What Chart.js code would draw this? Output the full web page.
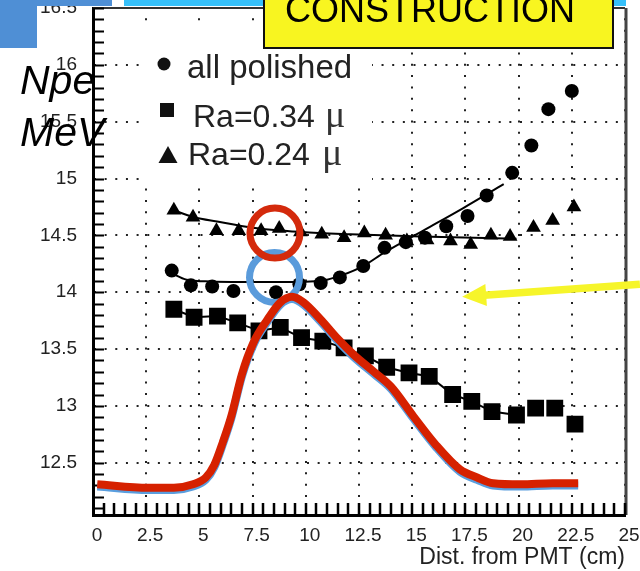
<!DOCTYPE html>
<html>
<head>
<meta charset="utf-8">
<script src="https://cdn.jsdelivr.net/npm/chart.js@4.4.1/dist/chart.umd.min.js"></script>
<style>
  html, body { margin: 0; padding: 0; background: #fff; }
  #wrap { width: 640px; height: 571px; position: relative; }
</style>
</head>
<body>
<div id="wrap"><canvas id="c" width="640" height="571"></canvas></div>
<script>
// Axis tick labels
const X_TICKS = [0, 2.5, 5, 7.5, 10, 12.5, 15, 17.5, 20, 22.5, 25];
const Y_TICKS = [12.5, 13, 13.5, 14, 14.5, 15, 15.5, 16, 16.5];

// Npe/MeV versus distance from the PMT, all polished
const polishedX = [3.7, 4.6, 5.6, 6.6, 8.6, 9.7, 10.7, 11.6, 12.7, 13.7, 14.7, 15.6, 16.6, 17.6, 18.5, 19.7, 20.6, 21.4, 22.5];
const polishedY = [14.19, 14.06, 14.05, 14.01, 14.00, 14.07, 14.08, 14.13, 14.23, 14.39, 14.44, 14.48, 14.58, 14.67, 14.85, 15.05, 15.29, 15.61, 15.77];

// Ra = 0.34 micron
const ra034X = [3.8, 4.75, 5.85, 6.8, 7.8, 8.8, 9.8, 10.8, 11.8, 12.8, 13.8, 14.85, 15.8, 16.9, 17.8, 18.75, 19.9, 20.8, 21.7, 22.65];
const ra034Y = [13.85, 13.78, 13.79, 13.73, 13.66, 13.69, 13.60, 13.57, 13.51, 13.44, 13.34, 13.29, 13.26, 13.10, 13.04, 12.95, 12.92, 12.98, 12.98, 12.84];

// Ra = 0.24 micron
const ra024X = [3.8, 4.7, 5.8, 6.85, 7.9, 8.75, 9.75, 10.75, 11.8, 12.75, 13.75, 14.75, 15.7, 16.8, 17.75, 18.7, 19.6, 20.7, 21.6, 22.6];
const ra024Y = [14.72, 14.66, 14.54, 14.54, 14.54, 14.56, 14.53, 14.51, 14.48, 14.52, 14.50, 14.45, 14.46, 14.45, 14.42, 14.50, 14.49, 14.57, 14.63, 14.75];

// Fit curves
const polishedFitX = [3.65, 4.4, 5.5, 8.0, 10.2, 11.0, 11.7, 12.7, 13.7, 15.6, 17.4, 19.3];
const polishedFitY = [14.17, 14.11, 14.095, 14.09, 14.095, 14.11, 14.15, 14.23, 14.35, 14.55, 14.74, 14.95];
const ra024FitX = [3.65, 4.75, 5.9, 7.4, 9.8, 12.1, 15.4, 19.9];
const ra024FitY = [14.73, 14.66, 14.62, 14.57, 14.53, 14.51, 14.49, 14.47];

// Light profile along the tube (red and blue traces)
const profileRedX = [0.2, 2.6, 3.8, 4.7, 5.3, 5.7, 6.1, 6.5, 7.0, 7.55, 8.2, 8.8, 9.35, 9.9, 10.7, 11.5, 12.25, 13.2, 14.0, 15.05, 16.1, 17.25, 18.05, 18.8, 20.1, 21.6, 22.8];
const profileRedY = [12.31, 12.28, 12.28, 12.31, 12.37, 12.48, 12.68, 12.91, 13.28, 13.56, 13.76, 13.91, 13.96, 13.91, 13.76, 13.59, 13.45, 13.30, 13.17, 12.91, 12.66, 12.44, 12.37, 12.32, 12.31, 12.32, 12.32];
const profileBlueX = [0.2, 2.6, 3.8, 4.7, 5.3, 5.7, 6.1, 6.5, 7.0, 7.55, 8.2, 8.8, 9.35, 9.9, 10.7, 11.5, 12.25, 13.2, 14.0, 15.05, 16.1, 17.25, 18.05, 18.8, 20.1, 21.6, 22.8];
const profileBlueY = [12.29, 12.26, 12.26, 12.29, 12.35, 12.46, 12.66, 12.89, 13.26, 13.54, 13.74, 13.89, 13.94, 13.89, 13.74, 13.57, 13.43, 13.28, 13.15, 12.89, 12.64, 12.42, 12.35, 12.30, 12.29, 12.30, 12.30];

// Highlight rings and pointer arrow (data coordinates)
const redRing = [8.55, 14.52];
const blueRing = [8.53, 14.13];
const arrowFrom = [25.7, 14.07];
const arrowTo = [17.35, 13.96];

const pts = (xs, ys) => xs.map((x, i) => ({ x, y: ys[i] }));

const overlay = {
  id: 'overlay',
  beforeDatasetsDraw(chart) {
    const { ctx, chartArea: a, scales: { x, y } } = chart;
    ctx.save();
    // plot frame: top and right edges
    ctx.strokeStyle = '#333';
    ctx.lineWidth = 2;
    ctx.beginPath(); ctx.moveTo(a.left, a.top); ctx.lineTo(a.right, a.top); ctx.stroke();
    ctx.lineWidth = 3;
    ctx.strokeStyle = '#444';
    ctx.beginPath(); ctx.moveTo(a.right + 1, a.top); ctx.lineTo(a.right + 1, a.bottom); ctx.stroke();
    // inner tick marks
    ctx.strokeStyle = '#000';
    ctx.lineWidth = 2;
    ctx.beginPath();
    for (let i = Math.ceil(y.min * 10); i <= Math.floor(y.max * 10 + 1e-6); i++) {
      const py = Math.round(y.getPixelForValue(i / 10)) + 0.5;
      ctx.moveTo(a.left, py); ctx.lineTo(a.left + 11, py);
    }
    ctx.stroke();
    ctx.lineWidth = 2.5;
    ctx.beginPath();
    for (let i = 1; i <= 50; i++) {
      const px = Math.round(x.getPixelForValue(i / 2));
      ctx.moveTo(px, a.bottom); ctx.lineTo(px, a.bottom - 12);
    }
    ctx.stroke();
    // legend panel
    ctx.fillStyle = '#fff';
    ctx.fillRect(140, 28, 232, 152);
    ctx.fillStyle = '#111';
    ctx.beginPath(); ctx.arc(164, 64, 6.5, 0, Math.PI * 2); ctx.fill();
    ctx.fillRect(160, 103, 14, 14);
    ctx.beginPath(); ctx.moveTo(168, 146); ctx.lineTo(177.5, 163); ctx.lineTo(158.5, 163); ctx.closePath(); ctx.fill();
    ctx.fillStyle = '#222';
    ctx.font = '33px "Liberation Sans", Arial, sans-serif';
    ctx.textBaseline = 'alphabetic';
    ctx.textAlign = 'left';
    ctx.fillText('all polished', 187, 78);
    ctx.font = '32px "Liberation Sans", Arial, sans-serif';
    ctx.fillText('Ra=0.34', 193, 127);
    ctx.fillText('Ra=0.24', 188, 165);
    ctx.font = '38px "Liberation Serif", serif';
    ctx.fillStyle = '#333';
    ctx.fillText('\u03bc', 325, 127);
    ctx.fillText('\u03bc', 322, 165);
    ctx.restore();
  },
  afterDraw(chart) {
    const { ctx, scales: { x, y } } = chart;
    ctx.save();
    // pointer arrow
    const x0 = x.getPixelForValue(arrowFrom[0]), y0 = y.getPixelForValue(arrowFrom[1]);
    const x1 = x.getPixelForValue(arrowTo[0]), y1 = y.getPixelForValue(arrowTo[1]);
    const ang = Math.atan2(y1 - y0, x1 - x0);
    const headLen = 24, headHalf = 11;
    const bx = x1 - Math.cos(ang) * headLen, by = y1 - Math.sin(ang) * headLen;
    ctx.strokeStyle = '#f6f52a';
    ctx.fillStyle = '#f6f52a';
    ctx.lineWidth = 7.5;
    ctx.beginPath(); ctx.moveTo(x0, y0); ctx.lineTo(bx + Math.cos(ang) * 2, by + Math.sin(ang) * 2); ctx.stroke();
    ctx.beginPath();
    ctx.moveTo(x1, y1);
    ctx.lineTo(bx - Math.sin(ang) * headHalf, by + Math.cos(ang) * headHalf);
    ctx.lineTo(bx + Math.sin(ang) * headHalf, by - Math.cos(ang) * headHalf);
    ctx.closePath(); ctx.fill();

    // axis caption
    ctx.fillStyle = '#000';
    ctx.font = 'italic 41px "Liberation Sans", Arial, sans-serif';
    ctx.textAlign = 'left';
    ctx.textBaseline = 'alphabetic';
    ctx.fillText('Npe', 20, 94);
    ctx.fillText('MeV', 20, 146);

    // header strips
    ctx.fillStyle = '#36c0fa';
    ctx.fillRect(124, 0, 502, 6);
    ctx.fillStyle = '#4f8fd5';
    ctx.fillRect(0, 0, 112, 6);
    ctx.fillRect(0, 0, 37, 48);

    // construction banner
    ctx.fillStyle = '#f8f520';
    ctx.fillRect(264, -4, 349, 52);
    ctx.strokeStyle = '#111';
    ctx.lineWidth = 2;
    ctx.strokeRect(264, -4, 349, 52);
    ctx.fillStyle = '#000';
    ctx.font = '36px "Liberation Sans", Arial, sans-serif';
    ctx.fillText('CONSTRUCTION', 285, 22);
    ctx.restore();
  }
};

const lineDs = (data, color, width, order) => ({
  type: 'scatter', data, showLine: true, borderColor: color, borderWidth: width,
  pointRadius: 0, cubicInterpolationMode: 'monotone', order, fill: false
});

new Chart(document.getElementById('c'), {
  type: 'scatter',
  data: {
    datasets: [
      lineDs(pts(profileRedX, profileRedY), '#d62100', 8, 0),
      lineDs(pts(profileBlueX, profileBlueY), '#5a9ede', 8, 1),
      { data: [{ x: redRing[0], y: redRing[1] }], pointStyle: 'circle', pointRadius: 25,
        borderColor: '#d42a0c', borderWidth: 7, backgroundColor: 'rgba(0,0,0,0)', order: 2 },
      { data: [{ x: blueRing[0], y: blueRing[1] }], pointStyle: 'circle', pointRadius: 25,
        borderColor: '#5a9bdb', borderWidth: 7, backgroundColor: 'rgba(0,0,0,0)', order: 3 },
      { data: pts(polishedX, polishedY), pointStyle: 'circle', pointRadius: 7,
        backgroundColor: '#000', borderColor: '#000', borderWidth: 0, order: 4 },
      { data: pts(ra034X, ra034Y), pointStyle: 'rect', pointRadius: 10.5,
        backgroundColor: '#000', borderColor: '#000', order: 5,
        showLine: true, borderWidth: 2,
        segment: { borderColor: c => c.p0DataIndex >= 16 ? 'rgba(0,0,0,0)' : '#000' } },
      { data: pts(ra024X, ra024Y), pointStyle: 'triangle', pointRadius: 8.5,
        backgroundColor: '#000', borderColor: '#000', borderWidth: 0, order: 6 },
      lineDs(pts(polishedFitX, polishedFitY), '#000', 2, 7),
      lineDs(pts(ra024FitX, ra024FitY), '#000', 2, 8)
    ]
  },
  options: {
    responsive: false,
    animation: false,
    devicePixelRatio: 1,
    layout: { autoPadding: false, padding: { top: 8, right: 15, left: 0, bottom: 0 } },
    plugins: { legend: { display: false }, tooltip: { enabled: false } },
    scales: {
      x: {
        type: 'linear', min: 0, max: 25,
        afterBuildTicks: s => { s.ticks = X_TICKS.map(v => ({ value: v })); },
        afterFit: s => { s.height = 56; s.paddingLeft = 0; s.paddingRight = 0; },
        ticks: { color: '#222', font: { family: '"Liberation Sans", Arial', size: 19 }, padding: 9,
                 labelOffset: 4, maxRotation: 0, autoSkip: false, callback: v => String(v) },
        grid: { color: '#222', lineWidth: 2, drawTicks: false },
        border: { display: true, color: '#000', width: 3, dash: [2, 9.35], dashOffset: 1 },
        title: { display: true, text: 'Dist. from PMT (cm)', align: 'end', color: '#222',
                 font: { family: '"Liberation Sans", Arial', size: 23 }, padding: 0 }
      },
      y: {
        type: 'linear', min: 12.04, max: 16.5,
        afterBuildTicks: s => { s.ticks = Y_TICKS.map(v => ({ value: v })); },
        afterFit: s => { s.width = 93; s.paddingTop = 0; s.paddingBottom = 0; },
        ticks: { color: '#222', font: { family: '"Liberation Sans", Arial', size: 19 }, padding: 16,
                 autoSkip: false, callback: v => String(v) },
        grid: { color: '#222', lineWidth: 2, drawTicks: false },
        border: { display: true, color: '#000', width: 3, dash: [2, 8.65], dashOffset: 1 }
      }
    }
  },
  plugins: [overlay]
});
</script>
</body>
</html>
